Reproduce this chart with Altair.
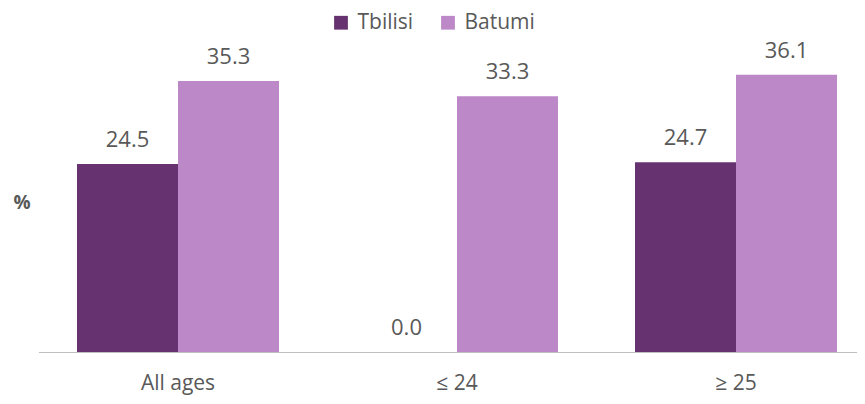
import altair as alt
import pandas as pd

categories = ["All ages", "≤ 24", "≥ 25"]
series = ["Tbilisi", "Batumi"]
tbilisi = [24.5, 0.0, 24.7]
batumi = [35.3, 33.3, 36.1]
colors = ["#663370", "#BC88C8"]

rows = []
for i, c in enumerate(categories):
    rows.append({"cat": c, "series": "Tbilisi", "value": tbilisi[i]})
    rows.append({"cat": c, "series": "Batumi", "value": batumi[i]})
df = pd.DataFrame(rows)

FONT = "Open Sans"
TXT = "#595959"

x = alt.X("cat:N", sort=categories, title=None,
          scale=alt.Scale(paddingInner=0.276, paddingOuter=0.138, range=[0, 837]),
          axis=alt.Axis(labelAngle=0, labelFontSize=21, labelColor=TXT, labelFont=FONT,
                        ticks=False, domainColor="#BFBFBF", domainWidth=1, labelPadding=20))
xo = alt.XOffset("series:N", sort=series, scale=alt.Scale(paddingInner=0, paddingOuter=0))
y = alt.Y("value:Q", scale=alt.Scale(domain=[0, 41.68], nice=False, zero=True),
          axis=alt.Axis(title="%", titleAngle=0, titleFontSize=19, titleColor=TXT, titleFont=FONT,
                        titleFontWeight="bold", labels=False, ticks=False, domain=False, grid=False,
                        titleX=-17, titleY=170, titleAlign="center", titleBaseline="middle"))

bars = alt.Chart(df).mark_bar().encode(
    x=x, xOffset=xo, y=y,
    color=alt.Color("series:N", sort=series, scale=alt.Scale(domain=series, range=colors),
                    legend=alt.Legend(title=None, orient="none", legendX=292, legendY=-20,
                                      direction="horizontal", symbolType="square", symbolSize=190,
                                      symbolStrokeWidth=0, labelFontSize=21, labelColor=TXT,
                                      labelFont=FONT, columnPadding=24, labelOffset=6)),
)

labels = alt.Chart(df).mark_text(fontSize=22, color=TXT, font=FONT, baseline="alphabetic", dy=-17).encode(
    x=x, xOffset=xo, y=y, text=alt.Text("value:Q", format=".1f"),
)

chart = alt.layer(bars, labels).properties(
    width=818, height=320,
    background="white",
    autosize=alt.AutoSizeParams(type="none"),
    padding={"left": 30.5, "top": 24, "right": 0, "bottom": 50},
).configure_view(stroke=None)

chart.save("out.html", embed_options={"renderer": "svg", "actions": False})
